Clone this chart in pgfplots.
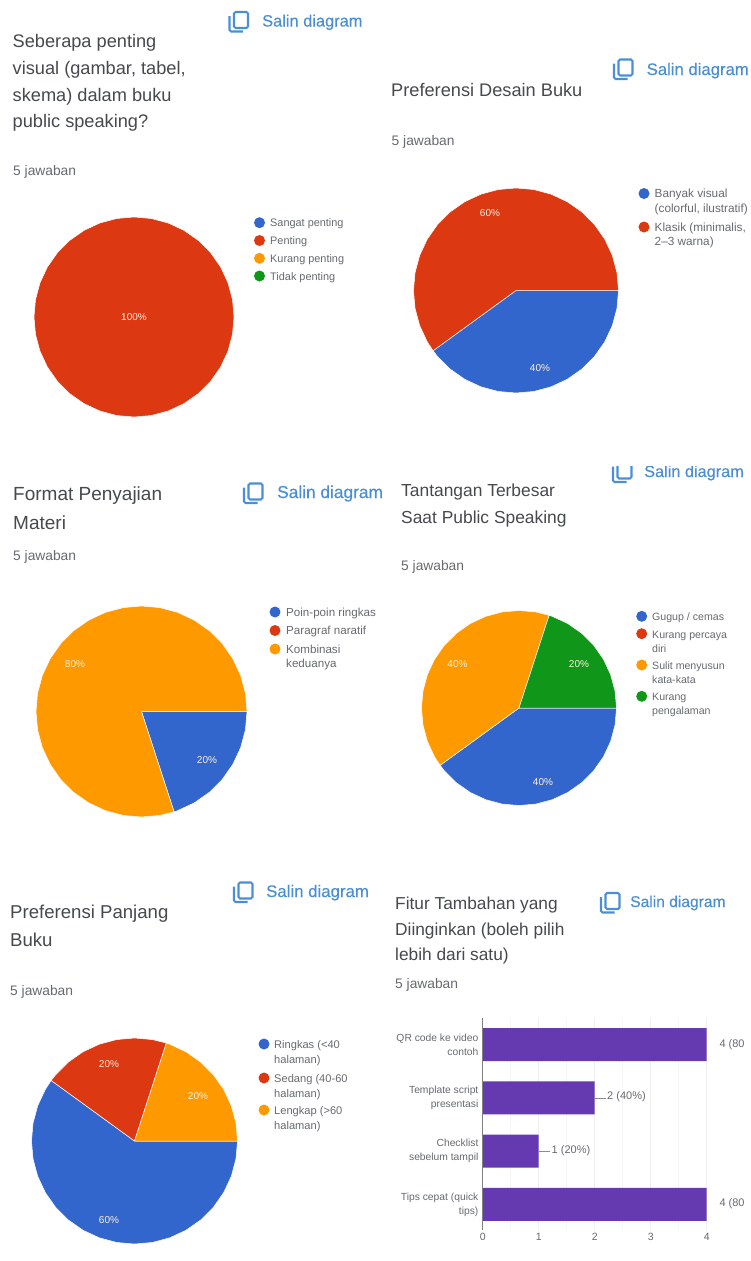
\documentclass[border=0pt]{standalone}
\usepackage{fontspec}
\setmainfont{Liberation Sans}
\usepackage{pgfplots}
\pgfplotsset{compat=1.18}
\usepgfplotslibrary{polar}
\definecolor{cblue}{HTML}{3366CC}
\definecolor{cred}{HTML}{DC3912}
\definecolor{corange}{HTML}{FF9900}
\definecolor{cgreen}{HTML}{109618}
\definecolor{cpurple}{HTML}{6539B0}
\definecolor{ctitle}{HTML}{46494D}
\definecolor{csmall}{HTML}{666A70}
\definecolor{clink}{HTML}{4A8FD6}
\newcommand\ttlsize{18.2}
\newcommand\linksize{16.4}
\newcommand\Ttl[3]{\node[anchor=base west,inner sep=0pt,text=ctitle,font=\fontsize{\ttlsize}{20}\selectfont] at (#1pt,-#2pt) {#3};}
\newcommand\Ans[2]{\node[anchor=base west,inner sep=0pt,text=csmall,font=\fontsize{13.8}{15}\selectfont] at (#1pt,-#2pt) {5 jawaban};}
\newcommand\legsize{10.9}
\newcommand\Leg[3]{\node[anchor=base west,inner sep=0pt,text=csmall,font=\fontsize{\legsize}{12}\selectfont] at (#1pt,-#2pt) {#3};}
\newcommand\Dot[3]{\fill[#3] (#1pt,-#2pt) circle (5.5pt);}
\newcommand\Pct[3]{\node[inner sep=0pt,text=white!88!orange,font=\fontsize{10}{12}\selectfont] at (#1pt,-#2pt) {#3};}
% copy icon + link text: icon x, icon top y, text x, baseline
\newcommand\Link[4]{%
  \begin{scope}[shift={(#1pt,-#2pt)},clink,line width=2.1pt]
    \draw[rounded corners=1.5pt] (5.5pt,-1pt) rectangle (19.5pt,-17pt);
    \draw[rounded corners=1.5pt] (1pt,-5pt) -- (1pt,-20.5pt) -- (14.5pt,-20.5pt);
  \end{scope}
  \node[anchor=base west,inner sep=0pt,text=clink,font=\fontsize{\linksize}{18}\selectfont\addfontfeature{FakeBold=0.25}] at (#3pt,-#4pt) {Salin diagram};}
\pgfplotsset{pie/.style={hide axis,scale only axis,width=#1,height=#1,xmin=-1,xmax=1,ymin=-1,ymax=1,clip=false,anchor=center},
  wedge/.style={fill=#1,draw=white,line width=0.5pt,data cs=polar,mark=none,forget plot}}
\begin{document}
\begin{tikzpicture}
\path[use as bounding box,fill=white] (0,0) rectangle (750pt,-1261pt);

% --- panel 1
\Link{228.5}{11}{262}{26.5}
\Ttl{12.5}{47.5}{Seberapa penting}
\Ttl{12.5}{74.5}{visual (gambar, tabel,}
\Ttl{12.5}{101}{skema) dalam buku}
\Ttl{12.5}{127}{public speaking?}
\Ans{13}{175}
\begin{axis}[pie=200pt,at={(134pt,-317pt)}]
\addplot[wedge=cred] coordinates {(0,1)(10,1)(20,1)(30,1)(40,1)(50,1)(60,1)(70,1)(80,1)(90,1)(100,1)(110,1)(120,1)(130,1)(140,1)(150,1)(160,1)(170,1)(180,1)(190,1)(200,1)(210,1)(220,1)(230,1)(240,1)(250,1)(260,1)(270,1)(280,1)(290,1)(300,1)(310,1)(320,1)(330,1)(340,1)(350,1)(360,1)};
\end{axis}
\Pct{134}{317}{100\%}
\renewcommand\legsize{10.9}
\Dot{259.5}{222.7}{cblue}\Leg{270}{226.7}{Sangat penting}
\Dot{259.5}{240.5}{cred}\Leg{270}{244.5}{Penting}
\Dot{259.5}{258.3}{corange}\Leg{270}{262.3}{Kurang penting}
\Dot{259.5}{276}{cgreen}\Leg{270}{280}{Tidak penting}

% --- panel 2
\renewcommand\linksize{16.7}
\Link{613}{58.5}{646.5}{75}
\Ttl{391}{96}{Preferensi Desain Buku}
\Ans{391.5}{145}
\begin{axis}[pie=205pt,at={(516pt,-290.5pt)}]
\addplot[wedge=cblue] coordinates {(0,0)(0,1)(-10,1)(-20,1)(-30,1)(-40,1)(-50,1)(-60,1)(-70,1)(-80,1)(-90,1)(-100,1)(-110,1)(-120,1)(-130,1)(-140,1)(-144,1)(0,0)};
\addplot[wedge=cred] coordinates {(0,0)(216,1)(210,1)(200,1)(190,1)(180,1)(170,1)(160,1)(150,1)(140,1)(130,1)(120,1)(110,1)(100,1)(90,1)(80,1)(70,1)(60,1)(50,1)(40,1)(30,1)(20,1)(10,1)(0,1)(0,0)};
\end{axis}
\Pct{490}{213}{60\%}
\Pct{540}{368}{40\%}
\renewcommand\legsize{11.8}
\Dot{644}{193.5}{cblue}\Leg{654.5}{197.5}{Banyak visual}\Leg{654.5}{212}{(colorful, ilustratif)}
\Dot{644}{227}{cred}\Leg{654.5}{231.5}{Klasik (minimalis,}\Leg{654.5}{245.5}{2--3 warna)}

% --- panel 3
\renewcommand\linksize{17.3}
\renewcommand\ttlsize{19}
\Link{243}{482.5}{277}{498}
\Ttl{13}{500}{Format Penyajian}
\Ttl{13}{529}{Materi}
\Ans{13}{560}
\begin{axis}[pie=211pt,at={(141.5pt,-711.5pt)}]
\addplot[wedge=cblue] coordinates {(0,0)(0,1)(-10,1)(-20,1)(-30,1)(-40,1)(-50,1)(-60,1)(-70,1)(-72,1)(0,0)};
\addplot[wedge=corange] coordinates {(0,0)(288,1)(280,1)(270,1)(260,1)(250,1)(240,1)(230,1)(220,1)(210,1)(200,1)(190,1)(180,1)(170,1)(160,1)(150,1)(140,1)(130,1)(120,1)(110,1)(100,1)(90,1)(80,1)(70,1)(60,1)(50,1)(40,1)(30,1)(20,1)(10,1)(0,1)(0,0)};
\end{axis}
\Pct{75}{664}{80\%}
\Pct{207}{760}{20\%}
\renewcommand\legsize{11.6}
\Dot{275}{612}{cblue}\Leg{286}{616}{Poin-poin ringkas}
\Dot{275}{630.5}{cred}\Leg{286}{634.5}{Paragraf naratif}
\Dot{275}{649}{corange}\Leg{286}{653}{Kombinasi}\Leg{286}{667.5}{keduanya}

% --- panel 4
\renewcommand\linksize{16.3}
\renewcommand\ttlsize{17.4}
\Link{612}{461.5}{644}{477}
\fill[white] (590pt,-440pt) rectangle (750pt,-466pt);
\Ttl{401}{496.5}{Tantangan Terbesar}
\Ttl{401}{523}{Saat Public Speaking}
\Ans{401}{570}
\begin{axis}[pie=195pt,at={(519pt,-708pt)}]
\addplot[wedge=cblue] coordinates {(0,0)(0,1)(-10,1)(-20,1)(-30,1)(-40,1)(-50,1)(-60,1)(-70,1)(-80,1)(-90,1)(-100,1)(-110,1)(-120,1)(-130,1)(-140,1)(-144,1)(0,0)};
\addplot[wedge=corange] coordinates {(0,0)(216,1)(210,1)(200,1)(190,1)(180,1)(170,1)(160,1)(150,1)(140,1)(130,1)(120,1)(110,1)(100,1)(90,1)(80,1)(72,1)(0,0)};
\addplot[wedge=cgreen] coordinates {(0,0)(72,1)(70,1)(60,1)(50,1)(40,1)(30,1)(20,1)(10,1)(0,1)(0,0)};
\end{axis}
\Pct{457.5}{664.5}{40\%}
\Pct{579}{664.5}{20\%}
\Pct{543}{782}{40\%}
\renewcommand\legsize{10.6}
\Dot{641.7}{616.3}{cblue}\Leg{652}{620.5}{Gugup / cemas}
\Dot{641.7}{633.7}{cred}\Leg{652}{638}{Kurang percaya}\Leg{652}{652}{diri}
\Dot{641.7}{665}{corange}\Leg{652}{669}{Sulit menyusun}\Leg{652}{683}{kata-kata}
\Dot{641.7}{696.3}{cgreen}\Leg{652}{700.3}{Kurang}\Leg{652}{714.5}{pengalaman}

% --- panel 5
\renewcommand\linksize{16.8}
\renewcommand\ttlsize{18.6}
\Link{233}{881.5}{266}{897}
\Ttl{10}{918}{Preferensi Panjang}
\Ttl{10}{946}{Buku}
\Ans{10}{995}
\begin{axis}[pie=206pt,at={(134.5pt,-1141pt)}]
\addplot[wedge=cblue] coordinates {(0,0)(0,1)(-10,1)(-20,1)(-30,1)(-40,1)(-50,1)(-60,1)(-70,1)(-80,1)(-90,1)(-100,1)(-110,1)(-120,1)(-130,1)(-140,1)(-150,1)(-160,1)(-170,1)(-180,1)(-190,1)(-200,1)(-210,1)(-216,1)(0,0)};
\addplot[wedge=cred] coordinates {(0,0)(144,1)(140,1)(130,1)(120,1)(110,1)(100,1)(90,1)(80,1)(72,1)(0,0)};
\addplot[wedge=corange] coordinates {(0,0)(72,1)(70,1)(60,1)(50,1)(40,1)(30,1)(20,1)(10,1)(0,1)(0,0)};
\end{axis}
\Pct{109}{1064}{20\%}
\Pct{198}{1096}{20\%}
\Pct{109}{1220}{60\%}
\renewcommand\legsize{11.1}
\Dot{264}{1044}{cblue}\Leg{274}{1048}{Ringkas (<40}\Leg{274}{1063}{halaman)}
\Dot{264}{1078}{cred}\Leg{274}{1082}{Sedang (40-60}\Leg{274}{1097}{halaman)}
\Dot{264}{1110}{corange}\Leg{274}{1114}{Lengkap (>60}\Leg{274}{1129}{halaman)}

% --- panel 6
\renewcommand\linksize{15.6}
\renewcommand\ttlsize{17.3}
\Link{600}{892}{630}{907}
\Ttl{395}{909}{Fitur Tambahan yang}
\Ttl{395}{935}{Diinginkan (boleh pilih}
\Ttl{395}{960.5}{lebih dari satu)}
\Ans{395}{988}
\begin{axis}[
  at={(482.7pt,-1230pt)},anchor=south west,scale only axis,width=224pt,height=212pt,
  xbar,bar width=33pt,
  xmin=0,xmax=4,ymin=-0.5,ymax=3.48,y dir=reverse,
  axis y line=left,axis x line=bottom,
  x axis line style={draw=none,-},
  y axis line style={draw=none,-},
  xtick={0,1,2,3,4},ytick={0,1,2,3},
  minor x tick num=1,
  xmajorgrids,xminorgrids,
  grid style={draw=black!6,line width=0.6pt},
  minor grid style={draw=black!4,line width=0.6pt},
  tick style={draw=none},
  yticklabels={{QR code ke video\\contoh},{Template script\\presentasi},{Checklist\\sebelum tampil},{Tips cepat (quick\\tips)}},
  yticklabel style={align=right,text=csmall,font=\fontsize{10.3}{14}\selectfont,inner sep=0pt,xshift=-2pt},
  xticklabel style={text=csmall,font=\fontsize{10.5}{12}\selectfont,inner sep=0pt,yshift=-1pt},
  /pgf/number format/assume math mode=true,
  clip=false]
\addplot[fill=cpurple,draw=none] coordinates {(4,0)(2,1)(1,2)(4,3)};
\draw[black!50,line width=1.5pt] (axis cs:0,-0.5) -- (axis cs:0,3.48);
\draw[black!45,line width=0.7pt] (axis cs:2,1) -- (axis cs:2.21,1);
\draw[black!45,line width=0.7pt] (axis cs:1,2) -- (axis cs:1.21,2);
\end{axis}
\node[anchor=west,inner sep=0pt,text=csmall,font=\fontsize{11}{12}\selectfont] at (719.3pt,-1045pt) {4 (80};
\node[anchor=west,inner sep=0pt,text=csmall,font=\fontsize{11}{12}\selectfont] at (607pt,-1097pt) {2 (40\%)};
\node[anchor=west,inner sep=0pt,text=csmall,font=\fontsize{11}{12}\selectfont] at (551.5pt,-1151pt) {1 (20\%)};
\node[anchor=west,inner sep=0pt,text=csmall,font=\fontsize{11}{12}\selectfont] at (719.3pt,-1204pt) {4 (80};
\end{tikzpicture}
\end{document}
